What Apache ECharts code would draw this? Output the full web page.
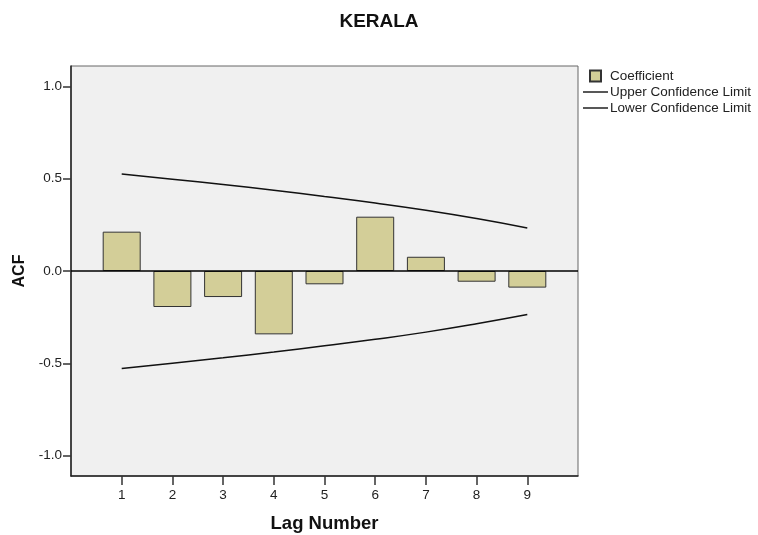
<!DOCTYPE html>
<html>
<head>
<meta charset="utf-8">
<script src="https://cdn.jsdelivr.net/npm/echarts@6/dist/echarts.min.js"></script>
<style>html,body{margin:0;padding:0;background:#fff}#c{width:758px;height:535px}</style>
</head>
<body>
<div id="c"></div>
<script>
var lags = [1, 2, 3, 4, 5, 6, 7, 8, 9];
var coefficient = [0.213, -0.195, -0.141, -0.343, -0.072, 0.294, 0.077, -0.058, -0.090];
var upperLimit = [0.525, 0.497, 0.468, 0.437, 0.403, 0.368, 0.329, 0.284, 0.233];
var lowerLimit = [-0.528, -0.499, -0.470, -0.439, -0.405, -0.370, -0.331, -0.286, -0.236];
var yTicks = [-1.0, -0.5, 0.0, 0.5, 1.0];

function pairs(vals) { return lags.map(function (l, i) { return [l, vals[i]]; }); }

var FONT = 'Liberation Sans, Arial, sans-serif';
var chart = echarts.init(document.getElementById('c'), null, { renderer: 'canvas' });
chart.setOption({
  animation: false,
  backgroundColor: '#ffffff',
  title: {
    text: 'KERALA', left: 'center', top: 7,
    textStyle: { fontFamily: FONT, fontSize: 19, fontWeight: 'bold', color: '#111' }
  },
  legend: {
    orient: 'vertical', left: 578, top: 64,
    itemWidth: 25, itemHeight: 11, itemGap: 2,
    textStyle: { fontFamily: FONT, fontSize: 13.5, color: '#222', padding: [0, 0, 0, -3] },
    data: [
      { name: 'Coefficient', icon: 'path://M0,0h10v10h-10z' },
      { name: 'Upper Confidence Limit', icon: 'path://M0,0h25v1.4h-25z' },
      { name: 'Lower Confidence Limit', icon: 'path://M0,0h25v1.4h-25z' }
    ]
  },
  grid: {
    left: 71, top: 66, width: 507, height: 410,
    outerBoundsMode: 'none', containLabel: false,
    show: true, backgroundColor: '#f0f0f0', borderColor: '#666', borderWidth: 1
  },
  xAxis: {
    type: 'value', min: 0, max: 10,
    name: 'Lag Number', nameLocation: 'middle', nameGap: 38,
    nameTextStyle: { fontFamily: FONT, fontSize: 18.5, fontWeight: 'bold', color: '#111' },
    axisLine: { show: true, onZero: false, lineStyle: { color: '#222', width: 1.5 } },
    axisTick: { show: true, length: 9, customValues: lags, lineStyle: { color: '#333', width: 1.5 } },
    axisLabel: { customValues: lags, margin: 12, fontFamily: FONT, fontSize: 13.5, color: '#222' },
    splitLine: { show: false }
  },
  yAxis: {
    type: 'value', min: -1.11, max: 1.11,
    name: 'ACF', nameLocation: 'middle', nameGap: 40, nameRotate: 90,
    nameTextStyle: { fontFamily: FONT, fontSize: 16, fontWeight: 'bold', color: '#111' },
    axisLine: { show: true, lineStyle: { color: '#222', width: 1.5 } },
    axisTick: { show: true, length: 8, customValues: yTicks, lineStyle: { color: '#333', width: 1.5 } },
    axisLabel: {
      customValues: yTicks, margin: 9, fontFamily: FONT, fontSize: 13.5, color: '#222',
      formatter: function (v) { return v.toFixed(1); }
    },
    splitLine: { show: false }
  },
  series: [
    {
      name: 'Coefficient', type: 'bar', barWidth: 38,
      data: pairs(coefficient),
      itemStyle: { color: '#d3ce98', borderColor: '#333', borderWidth: 1 },
      markLine: {
        silent: true, symbol: 'none', label: { show: false },
        lineStyle: { color: '#000', width: 1.5, type: 'solid' },
        data: [{ yAxis: 0 }]
      }
    },
    {
      name: 'Upper Confidence Limit', type: 'line', smooth: true, symbol: 'none',
      data: pairs(upperLimit),
      lineStyle: { color: '#111', width: 1.5 }, itemStyle: { color: '#111' }
    },
    {
      name: 'Lower Confidence Limit', type: 'line', smooth: true, symbol: 'none',
      data: pairs(lowerLimit),
      lineStyle: { color: '#111', width: 1.5 }, itemStyle: { color: '#111' }
    }
  ]
});
</script>
</body>
</html>
